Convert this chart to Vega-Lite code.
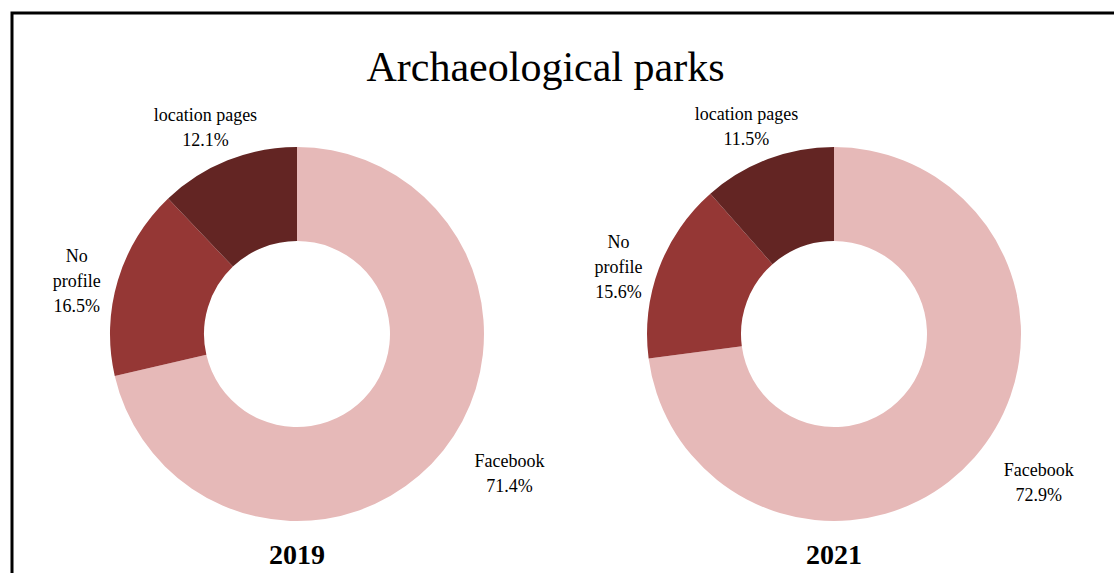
{
  "$schema": "https://vega.github.io/schema/vega-lite/v6.json",
  "autosize": {"type": "none"},
  "padding": {"left": 12, "top": 13, "right": -5, "bottom": -82},
  "width": 1107,
  "height": 642,
  "background": "white",
  "title": {
    "text": "Archaeological parks",
    "font": "Liberation Serif",
    "fontSize": 42,
    "fontWeight": "normal",
    "color": "black",
    "anchor": "middle",
    "baseline": "alphabetic",
    "offset": -110,
    "dx": -20
  },
  "data": {
    "values": [
      {"year": "2019", "category": "Facebook", "label": "Facebook", "value": 71.4, "rank": 1},
      {"year": "2019", "category": "No profile", "label": "No\nprofile", "value": 16.5, "rank": 2},
      {"year": "2019", "category": "location pages", "label": "location pages", "value": 12.1, "rank": 3},
      {"year": "2021", "category": "Facebook", "label": "Facebook", "value": 72.9, "rank": 1},
      {"year": "2021", "category": "No profile", "label": "No\nprofile", "value": 15.6, "rank": 2},
      {"year": "2021", "category": "location pages", "label": "location pages", "value": 11.5, "rank": 3}
    ]
  },
  "transform": [
    {"stack": "value", "groupby": ["year"], "sort": [{"field": "rank", "order": "ascending"}], "as": ["v0", "v1"]},
    {"calculate": "(datum.v0 + datum.v1) / 2", "as": "mid"},
    {"calculate": "datum.label + '\\n' + format(datum.value, '.1f') + '%'", "as": "txt"}
  ],
  "encoding": {
    "x": {"field": "year", "type": "nominal", "scale": {"type": "point", "domain": ["2019", "2021"], "padding": 0.5307}, "axis": null}
  },
  "layer": [
    {
      "mark": {"type": "arc", "outerRadius": 187, "innerRadius": 93},
      "encoding": {
        "theta": {"field": "v0", "type": "quantitative", "scale": {"domain": [0, 100]}},
        "theta2": {"field": "v1"},
        "color": {
          "field": "category", "type": "nominal", "legend": null,
          "scale": {"domain": ["Facebook", "No profile", "location pages"], "range": ["#E6B9B8", "#953735", "#632523"]}
        }
      }
    },
    {
      "transform": [{"filter": "datum.category == 'Facebook'"}],
      "mark": {"type": "text", "radius": 255, "dx": 13, "dy": -31, "font": "Liberation Serif", "fontSize": 18, "lineBreak": "\n", "lineHeight": 25, "baseline": "middle", "align": "center", "color": "black"},
      "encoding": {
        "theta": {"field": "mid", "type": "quantitative"},
        "text": {"field": "txt"}
      }
    },
    {
      "transform": [{"filter": "datum.category == 'No profile'"}],
      "mark": {"type": "text", "radius": 228, "dx": -2, "dy": -11, "font": "Liberation Serif", "fontSize": 18, "lineBreak": "\n", "lineHeight": 25, "baseline": "middle", "align": "center", "color": "black"},
      "encoding": {
        "theta": {"field": "mid", "type": "quantitative"},
        "text": {"field": "txt"}
      }
    },
    {
      "transform": [{"filter": "datum.category == 'location pages'"}],
      "mark": {"type": "text", "radius": 228, "dx": -7, "dy": -6, "font": "Liberation Serif", "fontSize": 18, "lineBreak": "\n", "lineHeight": 25, "baseline": "middle", "align": "center", "color": "black"},
      "encoding": {
        "theta": {"field": "mid", "type": "quantitative"},
        "text": {"field": "txt"}
      }
    },
    {
      "transform": [{"filter": "datum.category == 'Facebook'"}],
      "mark": {"type": "text", "dy": 222, "font": "Liberation Serif", "fontSize": 28, "fontWeight": "bold", "baseline": "middle", "align": "center", "color": "black"},
      "encoding": {
        "text": {"field": "year"}
      }
    }
  ],
  "config": {
    "view": {"stroke": "black", "strokeWidth": 3}
  }
}
